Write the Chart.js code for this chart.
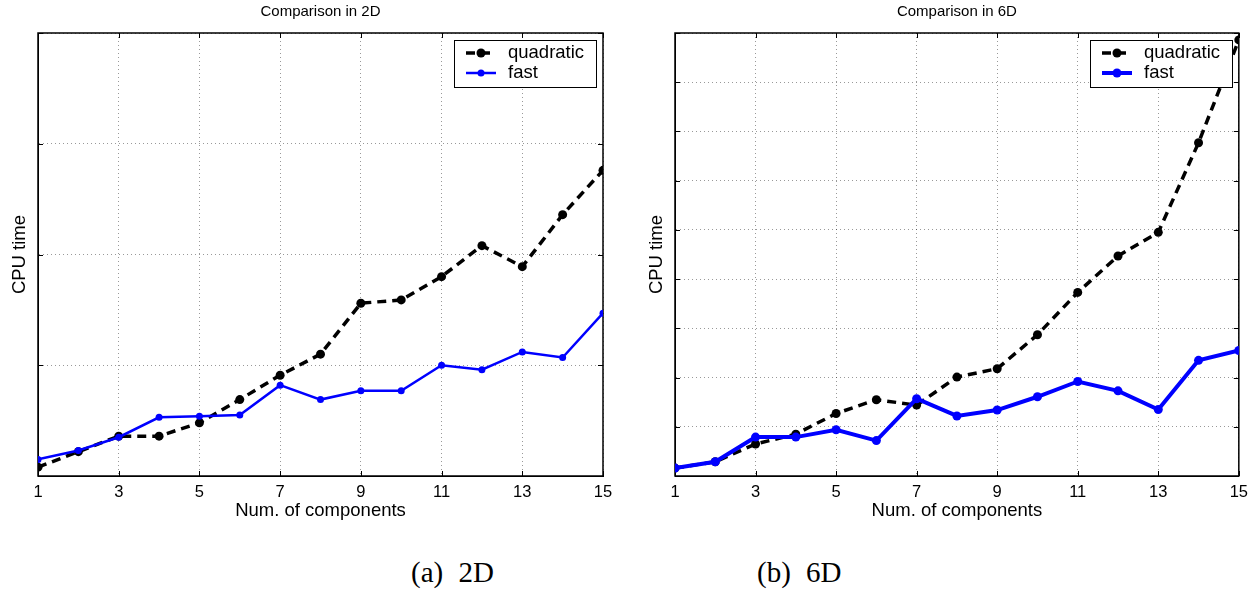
<!DOCTYPE html>
<html>
<head>
<meta charset="utf-8">
<script src="https://cdn.jsdelivr.net/npm/chart.js@4"></script>
<style>
  body {
    margin: 0;
    width: 1255px;
    height: 590px;
    overflow: hidden;
    position: relative;
    background: #fff;
  }
  .panel {
    position: absolute;
    top: 0;
    height: 530px;
  }
  .caption {
    position: absolute;
    top: 558px;
    font-family: "Liberation Serif", "Times New Roman", serif;
    font-size: 29px;
    line-height: 1;
    word-spacing: 8px;
    color: #000;
    white-space: nowrap;
  }
</style>
</head>
<body>
<div class="panel" style="left:0;width:620px"><canvas id="chart2d"></canvas></div>
<div class="panel" style="left:630px;width:625px"><canvas id="chart6d"></canvas></div>
<div class="caption" style="left:411px">(a) 2D</div>
<div class="caption" style="left:757px">(b) 6D</div>

<script>
// Data
const components = [1, 2, 3, 4, 5, 6, 7, 8, 9, 10, 11, 12, 13, 14, 15];
const xTickValues = [1, 3, 5, 7, 9, 11, 13, 15];

const quadratic2D = [0.08, 0.22, 0.36, 0.36, 0.48, 0.69, 0.91, 1.10, 1.56, 1.59, 1.80, 2.08, 1.89, 2.36, 2.76];
const fast2D = [0.15, 0.23, 0.35, 0.53, 0.54, 0.55, 0.82, 0.69, 0.77, 0.77, 1.00, 0.96, 1.12, 1.07, 1.47];

const quadratic6D = [0.16, 0.29, 0.65, 0.85, 1.27, 1.55, 1.44, 2.01, 2.18, 2.87, 3.73, 4.47, 4.95, 6.77, 8.86];
const fast6D = [0.16, 0.29, 0.79, 0.79, 0.94, 0.72, 1.57, 1.22, 1.34, 1.61, 1.92, 1.73, 1.35, 2.35, 2.55];

const FONT = "'Liberation Sans', Arial, Helvetica, sans-serif";

// box around the axes + small inward tick marks (matlab style)
const axesBox = {
  id: "axesBox",
  beforeDatasetsDraw(chart) {
    const { ctx, chartArea: a, scales } = chart;
    ctx.save();
    ctx.strokeStyle = "#000";
    ctx.lineWidth = 1;
    ctx.beginPath();
    scales.x.ticks.forEach((t) => {
      const px = Math.round(scales.x.getPixelForValue(t.value)) + 0.5;
      ctx.moveTo(px, a.bottom);
      ctx.lineTo(px, a.bottom - 5);
      ctx.moveTo(px, a.top);
      ctx.lineTo(px, a.top + 5);
    });
    scales.y.ticks.forEach((t) => {
      const py = Math.round(scales.y.getPixelForValue(t.value)) + 0.5;
      ctx.moveTo(a.left, py);
      ctx.lineTo(a.left + 5, py);
      ctx.moveTo(a.right, py);
      ctx.lineTo(a.right - 5, py);
    });
    ctx.stroke();
    ctx.lineWidth = 1.5;
    ctx.strokeRect(a.left, a.top, a.right - a.left, a.bottom - a.top);
    ctx.restore();
  },
};

// legend drawn inside the plot, top right
const insideLegend = {
  id: "insideLegend",
  afterDraw(chart) {
    const { ctx, chartArea: a } = chart;
    const w = 142, h = 47;
    const x0 = Math.round(a.right - 7 - w);
    const y0 = Math.round(a.top + 7);
    ctx.save();
    ctx.fillStyle = "#fff";
    ctx.fillRect(x0, y0, w, h);
    ctx.strokeStyle = "#000";
    ctx.lineWidth = 1;
    ctx.strokeRect(x0 + 0.5, y0 + 0.5, w, h);
    chart.data.datasets.forEach((ds, i) => {
      const y = y0 + 13 + i * 20;
      ctx.strokeStyle = ds.borderColor;
      ctx.lineWidth = ds.borderWidth;
      ctx.setLineDash(ds.borderDash || []);
      ctx.beginPath();
      ctx.moveTo(x0 + 12, y);
      ctx.lineTo(x0 + 42, y);
      ctx.stroke();
      ctx.setLineDash([]);
      ctx.fillStyle = ds.pointBackgroundColor;
      ctx.beginPath();
      ctx.arc(x0 + 27, y, ds.pointRadius, 0, Math.PI * 2);
      ctx.fill();
      ctx.fillStyle = "#000";
      ctx.font = "18.5px " + FONT;
      ctx.textBaseline = "middle";
      ctx.fillText(ds.label, x0 + 54, y);
    });
    ctx.restore();
  },
};

function makeChart(id, titleText, quadData, fastData, yMax, opts) {
  return new Chart(document.getElementById(id), {
    type: "line",
    data: {
      datasets: [
        {
          label: "quadratic",
          data: components.map((c, i) => ({ x: c, y: quadData[i] })),
          borderColor: "#000",
          backgroundColor: "#000",
          pointBackgroundColor: "#000",
          borderWidth: 3.5,
          borderDash: [9, 6],
          pointRadius: 4.5,
          pointBorderWidth: 0,
          tension: 0,
          order: 1,
        },
        {
          label: "fast",
          data: components.map((c, i) => ({ x: c, y: fastData[i] })),
          borderColor: "#0000ff",
          backgroundColor: "#0000ff",
          pointBackgroundColor: "#0000ff",
          borderWidth: opts.fastWidth,
          pointRadius: opts.fastRadius,
          pointBorderWidth: 0,
          tension: 0,
          order: 0,
        },
      ],
    },
    options: {
      responsive: true,
      maintainAspectRatio: false,
      animation: false,
      layout: { padding: { left: 0, right: opts.rightPad, top: 0, bottom: 0 } },
      plugins: {
        legend: { display: false },
        tooltip: { enabled: false },
        title: {
          display: true,
          text: titleText,
          fullSize: false,
          color: "#000",
          font: { family: FONT, size: 15, weight: "normal" },
          padding: { top: 3, bottom: 12 },
        },
      },
      scales: {
        x: {
          type: "linear",
          min: 1,
          max: 15,
          afterBuildTicks: (scale) => {
            scale.ticks = xTickValues.map((v) => ({ value: v }));
          },
          afterFit: (scale) => {
            scale.height = 54;
          },
          ticks: {
            color: "#000",
            font: { family: FONT, size: 16.5 },
            padding: 7,
            maxRotation: 0,
            autoSkip: false,
          },
          grid: {
            color: "rgba(0,0,0,0.4)",
            drawTicks: false,
            lineWidth: 1,
          },
          border: { display: true, color: "#000", dash: [1, 3] },
          title: {
            display: true,
            text: "Num. of components",
            color: "#000",
            font: { family: FONT, size: 18.5 },
            padding: { top: 0, bottom: 8 },
          },
        },
        y: {
          type: "linear",
          min: 0,
          max: yMax,
          afterFit: (scale) => {
            scale.width = opts.axisWidth;
          },
          ticks: { display: false, stepSize: 1 },
          grid: {
            color: "rgba(0,0,0,0.4)",
            drawTicks: false,
            lineWidth: 1,
          },
          border: { display: true, color: "#000", dash: [1, 3] },
          title: {
            display: true,
            text: "CPU time",
            color: "#000",
            font: { family: FONT, size: 18.5 },
            padding: { top: opts.yTitlePad, bottom: 0 },
          },
        },
      },
    },
    plugins: [axesBox, insideLegend],
  });
}

makeChart("chart2d", "Comparison in 2D", quadratic2D, fast2D, 4, {
  axisWidth: 38,
  rightPad: 17,
  yTitlePad: 9,
  fastWidth: 2.5,
  fastRadius: 3.5,
});

makeChart("chart6d", "Comparison in 6D", quadratic6D, fast6D, 9, {
  axisWidth: 45,
  rightPad: 15,
  yTitlePad: 16,
  fastWidth: 4,
  fastRadius: 4.5,
});
</script>
</body>
</html>
